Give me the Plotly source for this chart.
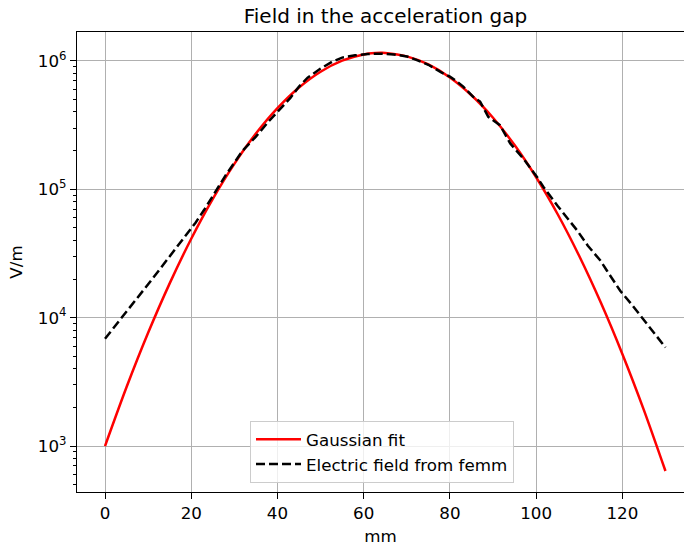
import plotly.graph_objects as go

# Gaussian fit
fit_x = [0, 5, 10, 15, 20, 25, 30, 35, 40, 45, 50, 55, 60, 64, 65, 70, 75, 80,
         85, 90, 95, 100, 105, 110, 115, 120, 125, 130]
fit_v = [999, 2880, 7620, 18490, 41190, 84190, 157800, 271400, 428200, 620200,
         823800, 1004000, 1123000, 1155000, 1153000, 1085000, 937600, 743100,
         540200, 360600, 220800, 124000, 63900, 30220, 13110, 5217, 1905, 639]

# Electric field from femm
femm_x = [0, 2, 4.5, 7, 10, 13, 16, 19, 21, 23, 25.7, 28, 31.9, 35, 38, 40, 43,
          45, 47, 50, 52.8, 55, 58, 61, 64, 67, 70, 72.2, 75, 78, 80, 81.2, 83.1,
          85.4, 87, 88.9, 91.6, 94, 97, 100.2, 101.7, 105, 109.5, 112, 114.9,
          116.4, 119.5, 122, 125.7, 128, 130]
femm_v = [6855, 8318, 10470, 13490, 18200, 24550, 33110, 44670, 54950, 69180,
          97720, 128800, 199500, 257000, 338800, 401800, 515000, 631000, 741000,
          871000, 990000, 1060000, 1105000, 1132000, 1138000, 1122000, 1084000,
          1019000, 933000, 813000, 753000, 708000, 631000, 525000, 481000,
          367000, 316000, 227500, 173800, 124700, 104200, 74130, 47860, 36310,
          27860, 23280, 16220, 12880, 8913, 7244, 5861]

x_ticks = [0, 20, 40, 60, 80, 100, 120]
y_ticks = [1e3, 1e4, 1e5, 1e6]
y_tick_text = ["10<sup>3</sup>", "10<sup>4</sup>", "10<sup>5</sup>", "10<sup>6</sup>"]

FONT = "DejaVu Sans"

fig = go.Figure()
fig.add_trace(go.Scatter(x=fit_x, y=fit_v, mode="lines", name="Gaussian fit",
                         line=dict(color="#ff0000", width=2.5, shape="spline",
                                   smoothing=0.8)))
fig.add_trace(go.Scatter(x=femm_x, y=femm_v, mode="lines",
                         name="Electric field from femm",
                         line=dict(color="#000000", width=2.5, dash="9px,4px")))

fig.update_layout(
    width=684, height=547,
    margin=dict(l=77, r=0, t=32, b=55),
    paper_bgcolor="white", plot_bgcolor="white",
    font=dict(family=FONT, size=16.7, color="black"),
    title=dict(text="Field in the acceleration gap", x=385.5 / 684, xref="container",
               xanchor="center", y=1 - 16 / 547, yanchor="middle", yref="container",
               font=dict(size=20, family=FONT)),
    legend=dict(x=(250 - 77) / 607, y=(492 - 483) / 460, xanchor="left", yanchor="bottom",
                bgcolor="rgba(255,255,255,0.8)", bordercolor="#cccccc", borderwidth=1,
                font=dict(size=16.7, family=FONT), itemwidth=45,
                tracegroupgap=2),
    showlegend=True,
)

fig.update_xaxes(
    range=[-6.5, 134.3], tickvals=x_ticks, ticks="outside", ticklen=6, tickwidth=1.3,
    tickcolor="black", showline=True, linecolor="black", linewidth=1.3, mirror=True,
    showgrid=True, gridcolor="#b0b0b0", gridwidth=1.3, zeroline=False,
    title=dict(text="mm", standoff=8, font=dict(size=16.7)),
    tickfont=dict(size=16.7),
)
fig.update_yaxes(
    type="log", range=[2.642, 6.225], tickvals=y_ticks, ticktext=y_tick_text,
    ticks="outside", ticklen=6, tickwidth=1.3, tickcolor="black",
    showline=True, linecolor="black", linewidth=1.3, mirror=True,
    showgrid=True, gridcolor="#b0b0b0", gridwidth=1.3, zeroline=False,
    minor=dict(ticks="outside", ticklen=3.3, tickwidth=1, tickcolor="black",
               dtick="D1", showgrid=False),
    title=dict(text="V/m", standoff=10, font=dict(size=16.7)),
    tickfont=dict(size=16.7),
)

fig.write_html("out.html")
